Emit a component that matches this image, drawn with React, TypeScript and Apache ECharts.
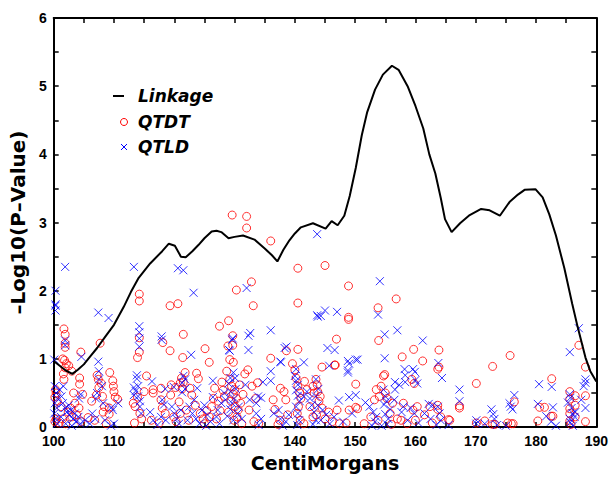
import React, { useEffect, useRef } from "react";
import * as echarts from "echarts";

const xMin = 100;
const xMax = 190;
const yMin = 0;
const yMax = 6;

const linkageCM = [100, 101, 102, 103.1, 104, 105, 106, 107.2, 108.5, 110, 111.6, 112.8, 114.1, 116, 118, 119.1, 120.1, 121.1, 121.9, 123, 124, 125, 126.2, 127, 127.8, 129.0, 130, 131.4, 133.3, 135.0, 136.2, 137.1, 138.1, 139.1, 140, 141.0, 143.0, 145.1, 146.1, 147.1, 148.2, 149.1, 150.1, 151.1, 152, 153.3, 154.6, 156.1, 157.2, 158.7, 160, 161.3, 162.3, 163.3, 164.2, 164.9, 166.0, 167.4, 169.0, 170.9, 172.3, 174.0, 175.6, 177, 178.1, 179.9, 181.1, 182.2, 183.3, 184.7, 186.0, 186.9, 188.2, 189, 190];
const linkageLOD = [0.97, 0.9, 0.83, 0.78, 0.84, 0.92, 1.03, 1.16, 1.32, 1.5, 1.76, 1.98, 2.19, 2.4, 2.58, 2.69, 2.66, 2.5, 2.49, 2.58, 2.67, 2.77, 2.87, 2.88, 2.86, 2.77, 2.79, 2.81, 2.75, 2.62, 2.52, 2.43, 2.6, 2.74, 2.84, 2.93, 2.99, 2.91, 3.02, 2.96, 3.1, 3.39, 3.8, 4.28, 4.62, 4.95, 5.17, 5.3, 5.24, 5.0, 4.71, 4.38, 4.0, 3.72, 3.36, 3.05, 2.86, 2.99, 3.11, 3.2, 3.18, 3.1, 3.3, 3.41, 3.48, 3.49, 3.37, 3.12, 2.81, 2.33, 1.81, 1.47, 1.02, 0.82, 0.67];

const qtdt: [number, number][] = [
  [129.6, 3.11], [132.0, 3.09], [132.0, 2.92], [136.0, 2.73], [140.5, 2.33], [145.0, 2.37], [148.9, 2.07], [156.8, 1.88], [153.8, 1.75], [132.8, 2.13], [130.3, 2.01], [133.1, 1.78], [140.5, 1.82], [114.2, 1.95], [114.2, 1.85], [119.3, 1.78], [120.6, 1.81], [127.5, 1.48], [129.0, 1.56], [148.9, 1.61], [148.9, 1.58], [153.9, 1.27], [146.9, 1.29], [121.5, 1.36], [114.2, 1.31], [101.7, 1.44], [101.9, 1.36], [101.9, 1.23], [101.9, 1.17], [107.7, 1.23], [118.1, 1.24], [119.3, 1.12], [125.1, 1.15], [129.7, 1.2], [129.7, 1.34], [159.7, 1.14], [163.9, 1.13], [175.7, 1.05], [157.8, 1.03], [161.2, 0.97], [187.1, 1.2], [188.2, 0.88], [172.8, 0.89], [170.1, 0.64], [182.6, 0.71], [104.5, 1.10], [113.9, 1.02], [114.2, 1.1], [121.4, 1.02], [125.8, 0.95], [136.0, 1.01], [138.6, 1.12], [140.5, 1.14], [144.5, 0.88], [146.6, 0.91], [163.9, 0.88], [154.9, 0.77],
  [101.5, 1.0], [101.8, 0.98], [102.1, 0.93], [101.9, 0.87], [101.6, 0.78], [101.7, 0.7], [102.5, 0.9], [103.0, 0.82], [104.3, 0.72], [104.3, 0.63], [100.3, 0.55], [100.4, 0.5], [100.2, 0.44], [100.6, 0.38], [103.3, 0.5], [104.8, 0.48], [101.2, 0.3], [102.4, 0.22], [103.0, 0.15], [100.4, 0.12], [100.9, 0.06], [101.5, 0.12], [102.8, 0.28], [103.8, 0.18], [104.5, 0.08], [100.2, 0.08], [102.0, 0.05], [103.5, 0.35], [104.2, 0.28],
  [107.2, 0.76], [107.4, 0.7], [107.9, 0.64], [107.5, 0.58], [107.1, 0.47], [108.1, 0.45], [109.3, 0.8], [109.8, 0.68], [109.9, 0.6], [110.0, 0.52], [110.2, 0.44], [106.3, 0.38], [108.4, 0.3], [108.2, 0.22], [109.2, 0.28], [109.2, 0.19], [110.6, 0.41], [106.8, 0.1], [108.7, 0.05], [105.7, 0.14],
  [113.2, 0.35], [113.5, 0.3], [113.9, 0.44], [114.3, 0.2], [114.6, 0.12], [113.4, 0.06], [115.4, 0.75], [115.0, 0.52], [116.5, 0.55], [116.5, 0.5], [117.8, 0.57], [117.8, 0.4], [119.4, 0.47], [118.5, 0.2], [116.2, 0.1], [117.5, 0.06], [118.0, 0.28], [119.5, 0.62], [120.2, 0.58], [121.0, 0.65], [121.3, 0.56], [120.8, 0.37], [121.2, 0.72], [119.9, 0.15], [120.3, 0.08], [121.0, 0.2], [121.8, 0.8], [121.5, 0.66], [122.6, 0.57], [122.9, 0.47], [122.0, 0.25], [122.4, 0.1],
  [123.7, 0.79], [124.0, 0.71], [123.5, 0.32], [124.3, 0.2], [124.8, 0.12], [125.4, 0.24], [125.0, 0.05], [126.7, 0.57], [127.9, 0.66], [128.1, 0.54], [128.3, 0.45], [127.3, 0.38], [126.2, 0.3], [125.8, 0.15], [127.0, 0.12], [126.5, 0.42], [127.6, 0.24],
  [128.9, 1.19], [129.2, 0.99], [129.8, 0.95], [128.7, 0.82], [132.2, 0.84], [131.7, 0.78], [129.2, 0.7], [129.5, 0.6], [130.0, 0.55], [129.8, 0.48], [130.3, 0.42], [129.4, 0.38], [130.1, 0.3], [130.6, 0.25], [129.0, 0.22], [130.4, 0.15], [131.0, 0.35], [131.4, 0.48], [130.8, 0.62], [129.9, 0.1], [131.2, 0.05], [132.9, 0.6], [133.5, 0.42], [132.4, 0.25], [133.2, 0.08], [134.0, 0.05], [133.8, 0.65],
  [137.6, 0.57], [138.2, 0.52], [138.5, 0.4], [136.4, 0.4], [136.7, 0.26], [137.5, 0.1], [138.8, 0.18], [137.2, 0.04], [139.6, 0.93], [140.0, 0.84], [140.2, 0.72], [140.5, 0.6], [140.8, 0.5], [141.0, 0.42], [140.6, 0.3], [140.4, 0.2], [140.9, 0.1], [141.6, 0.67], [143.0, 0.6], [143.2, 0.5], [142.0, 0.55], [142.5, 0.3], [143.0, 0.15], [141.5, 0.05],
  [143.5, 0.7], [143.7, 0.62], [143.8, 0.52], [144.2, 0.45], [144.0, 0.38], [144.5, 0.28], [143.6, 0.18], [145.0, 0.12], [146.7, 0.91], [145.6, 0.22], [146.2, 0.08], [147.0, 0.25], [147.4, 0.05], [149.0, 0.25], [150.1, 0.63], [150.1, 0.29], [150.4, 0.27], [151.5, 0.05], [148.5, 0.06],
  [153.5, 0.55], [154.0, 0.45], [154.3, 0.6], [154.7, 0.75], [155.0, 0.5], [155.3, 0.42], [156.2, 0.35], [153.2, 0.4], [152.6, 0.15], [153.8, 0.1], [155.8, 0.2], [157.0, 0.12], [158.0, 0.35], [159.4, 0.7], [159.8, 0.64], [157.6, 0.1], [158.6, 0.05], [159.6, 0.25], [160.3, 0.3], [160.0, 0.1], [156.0, 0.04],
  [162.4, 0.3], [163.7, 0.32], [163.7, 0.26], [165.5, 0.11], [163.7, 0.85], [161.5, 0.18], [162.8, 0.06], [164.2, 0.15], [167.3, 0.31], [167.3, 0.28], [165.7, 0.1],
  [170.1, 0.06], [171.5, 0.09], [172.8, 0.04], [173.2, 0.04], [175.3, 0.06], [175.9, 0.05], [176.2, 0.05], [176.4, 0.37], [180.6, 0.29], [181.4, 0.29], [182.5, 0.16], [182.8, 0.16], [180.3, 0.09], [185.6, 0.52], [186.5, 0.46], [185.6, 0.41], [188.2, 0.46], [186.5, 0.32], [185.6, 0.27], [185.6, 0.2], [186.5, 0.15], [188.2, 0.08], [185.6, 0.09], [185.8, 0.04]
];

const qtld: [number, number][] = [
  [143.7, 2.83], [100.3, 2.0], [101.9, 2.35], [113.3, 2.35], [120.6, 2.33], [121.5, 2.3], [123.2, 1.97], [132.0, 2.04], [154.1, 2.14], [100.3, 1.8], [100.3, 1.78], [100.3, 1.71], [107.4, 1.68], [109.1, 1.6], [114.2, 1.48], [114.2, 1.39], [117.9, 1.33], [117.9, 1.28], [136.0, 1.42], [143.7, 1.64], [144.3, 1.63], [145.0, 1.71], [147.0, 1.69], [153.8, 1.65], [154.9, 1.36], [157.0, 1.42], [161.2, 1.27], [187.1, 1.45], [185.6, 1.1], [132.6, 1.38], [132.3, 1.34], [129.7, 1.3], [129.1, 1.13], [132.3, 1.13], [138.6, 1.18], [145.4, 1.16], [146.6, 1.13], [122.8, 1.06], [104.6, 1.03], [100.1, 0.99], [107.4, 0.96], [137.6, 0.96], [148.8, 0.97], [148.8, 0.83], [148.8, 0.8], [150.1, 0.99], [150.4, 0.99], [154.9, 1.01], [163.8, 0.94], [164.4, 0.72], [180.5, 0.63], [182.6, 0.59], [188.2, 0.7], [101.9, 1.27], [101.9, 1.2], [114.2, 1.3], [114.2, 1.18],
  [100.2, 0.6], [100.4, 0.5], [100.6, 0.42], [100.2, 0.35], [100.5, 0.28], [100.1, 0.2], [100.3, 0.12], [100.6, 0.05], [101.0, 0.55], [101.3, 0.45], [101.5, 0.35], [101.9, 0.28], [102.2, 0.22], [102.6, 0.18], [102.9, 0.25], [103.2, 0.12], [103.5, 0.2], [103.8, 0.08], [104.1, 0.15], [104.4, 0.05], [102.0, 0.05], [101.2, 0.15], [102.5, 0.32], [104.5, 0.48], [104.2, 0.42], [105.2, 0.1], [103.0, 0.02], [101.6, 0.6],
  [107.5, 0.82], [107.5, 0.7], [107.2, 0.5], [107.0, 0.42], [106.4, 0.2], [106.9, 0.12], [108.2, 0.35], [108.5, 0.1], [109.6, 0.29], [109.8, 0.25], [110.0, 0.05], [109.5, 0.02], [108.0, 0.6], [110.7, 0.35], [106.0, 0.05],
  [113.8, 0.76], [113.8, 0.71], [114.0, 0.6], [113.6, 0.53], [114.0, 0.45], [114.3, 0.38], [114.3, 0.3], [114.5, 0.2], [113.3, 0.58], [113.3, 0.47], [116.3, 0.67], [116.0, 0.22], [116.5, 0.1], [117.2, 0.03], [118.5, 0.56], [118.0, 0.4], [118.3, 0.33], [117.8, 0.15], [118.6, 0.1], [119.9, 0.59], [121.3, 0.65], [121.8, 0.56], [120.0, 0.2], [120.4, 0.12], [120.8, 0.05], [121.1, 0.25], [119.6, 0.3], [121.5, 0.75],
  [121.8, 0.7], [121.3, 0.51], [123.8, 0.57], [123.3, 0.4], [126.4, 0.68], [126.4, 0.44], [122.5, 0.3], [123.0, 0.2], [123.6, 0.12], [124.2, 0.05], [122.2, 0.1], [124.6, 0.25], [125.0, 0.32], [125.5, 0.18], [126.0, 0.08], [127.8, 0.35], [127.2, 0.25], [127.0, 0.15], [127.5, 0.05], [125.3, 0.02],
  [129.6, 1.28], [129.2, 1.12], [129.8, 0.8], [130.1, 0.72], [129.3, 0.72], [129.0, 0.64], [129.3, 0.52], [130.2, 0.56], [129.9, 0.42], [129.6, 0.35], [129.3, 0.26], [128.8, 0.16], [129.8, 0.1], [130.5, 0.2], [130.7, 0.3], [131.2, 0.12], [128.5, 0.4], [128.3, 0.5], [134.7, 0.66], [133.9, 0.45], [134.4, 0.43], [133.6, 0.35], [133.6, 0.2], [134.4, 0.12], [134.0, 0.03], [131.8, 0.62], [132.5, 0.4],
  [138.3, 1.16], [136.0, 0.82], [137.7, 0.95], [141.5, 0.95], [140.2, 0.85], [140.0, 0.75], [140.2, 0.68], [140.5, 0.62], [140.2, 0.54], [140.5, 0.46], [140.8, 0.38], [140.2, 0.3], [140.5, 0.2], [140.7, 0.1], [140.4, 0.03], [141.5, 0.45], [142.0, 0.52], [142.5, 0.42], [142.8, 0.32], [143.2, 0.22], [143.5, 0.1], [143.0, 0.04], [136.5, 0.2], [137.3, 0.25], [137.6, 0.12], [138.5, 0.08], [138.0, 0.02], [139.0, 0.18], [136.0, 0.68],
  [143.8, 1.62], [145.7, 0.9], [149.0, 0.93], [143.5, 0.7], [143.9, 0.56], [143.5, 0.45], [143.8, 0.32], [144.6, 0.25], [145.2, 0.18], [144.3, 0.1], [147.3, 0.39], [149.0, 0.44], [150.1, 0.47], [146.5, 0.15], [148.0, 0.08], [149.5, 0.2], [145.8, 0.05],
  [151.7, 0.36], [152.4, 0.3], [153.0, 0.22], [153.5, 0.15], [153.3, 0.08], [152.8, 0.02], [154.4, 0.02], [154.7, 0.55], [155.0, 0.45], [155.2, 0.38], [154.8, 0.33], [155.8, 0.26], [155.0, 0.19], [155.5, 0.12], [155.3, 0.04], [156.6, 0.66], [158.3, 0.66], [156.6, 0.55], [157.3, 0.62], [158.2, 0.85], [159.6, 0.85], [159.9, 0.81], [158.3, 0.76], [160.0, 0.69], [160.3, 0.64], [156.5, 0.4], [158.0, 0.3], [157.7, 0.22], [159.2, 0.28], [158.7, 0.1], [159.8, 0.2], [160.5, 0.06],
  [162.2, 0.34], [162.8, 0.32], [163.7, 0.3], [164.0, 0.2], [164.2, 0.1], [165.5, 0.03], [163.5, 0.03], [162.5, 0.12], [167.3, 0.55], [167.3, 0.38], [161.5, 0.2],
  [170.1, 0.1], [170.1, 0.05], [171.5, 0.05], [172.6, 0.26], [172.9, 0.19], [173.1, 0.12], [173.5, 0.03], [176.4, 0.47], [175.6, 0.35], [176.1, 0.26], [175.8, 0.3], [175.0, 0.02], [180.3, 0.34], [182.8, 0.29], [181.7, 0.16], [182.5, 0.08], [183.3, 0.02], [185.6, 0.48], [185.7, 0.43], [185.3, 0.36], [185.9, 0.28], [186.1, 0.2], [185.6, 0.12], [185.7, 0.07], [186.1, 0.02], [186.5, 0.22], [186.4, 0.15], [188.2, 0.65], [187.9, 0.6], [188.2, 0.28], [187.5, 0.4]
];

const legendNames = ["Linkage", "QTDT", "QTLD"];

const TICK_FONT = "'Liberation Sans', Arial, sans-serif";
const TITLE_FONT = "'DejaVu Sans', sans-serif";

export default function App() {
  const ref = useRef<HTMLDivElement>(null);
  useEffect(() => {
    if (!ref.current) return;
    const chart = echarts.init(ref.current, undefined, { renderer: "svg" });
    const axisLine = { show: true, onZero: false, lineStyle: { color: "#000", width: 2 } };
    const axisTick = { show: true, inside: true, length: 5, lineStyle: { color: "#000", width: 1.5 } };
    const xBase = { type: "value", min: xMin, max: xMax, interval: 5, splitLine: { show: false }, axisLine, axisTick };
    const yBase = { type: "value", min: yMin, max: yMax, interval: 0.5, splitLine: { show: false }, axisLine, axisTick };
    const lineData = linkageCM.map((x, i) => [x, linkageLOD[i]]);
    chart.setOption({
      animation: false,
      backgroundColor: "#fff",
      grid: { left: 51, right: 14, top: 18, bottom: 41, containLabel: false },
      xAxis: [
        {
          ...xBase,
          position: "bottom",
          name: "CentiMorgans",
          nameLocation: "middle",
          nameGap: 22,
          nameTextStyle: { fontFamily: TITLE_FONT, fontWeight: "bold", fontSize: 19, color: "#000" },
          axisLabel: {
            margin: 8,
            lineHeight: 12,
            fontFamily: TICK_FONT,
            fontWeight: "bold",
            fontSize: 14,
            color: "#000",
            formatter: (v: number) => (v % 10 === 0 ? String(v) : ""),
          },
        },
        { ...xBase, position: "top", axisLabel: { show: false } },
      ],
      yAxis: [
        {
          ...yBase,
          position: "left",
          name: "\u2013Log10(P\u2013Value)",
          nameLocation: "middle",
          nameGap: 21,
          nameTextStyle: { fontFamily: TITLE_FONT, fontWeight: "bold", fontSize: 20, color: "#000" },
          axisLabel: {
            margin: 7,
            lineHeight: 12,
            fontFamily: TICK_FONT,
            fontWeight: "bold",
            fontSize: 14,
            color: "#000",
            formatter: (v: number) => (v % 1 === 0 ? String(v) : ""),
          },
        },
        { ...yBase, position: "right", axisLabel: { show: false } },
      ],
      series: [
        {
          name: legendNames[1],
          type: "scatter",
          xAxisIndex: 0,
          yAxisIndex: 0,
          data: qtdt,
          symbol: "circle",
          symbolSize: 8,
          itemStyle: { color: "rgba(0,0,0,0)", borderColor: "#ff0000", borderWidth: 1 },
          z: 2,
        },
        {
          name: legendNames[2],
          type: "scatter",
          xAxisIndex: 0,
          yAxisIndex: 0,
          data: qtld,
          symbol: "path://M0,0L10,10M10,0L0,10",
          symbolSize: 8,
          itemStyle: { color: "rgba(0,0,0,0)", borderColor: "#0000ff", borderWidth: 1 },
          z: 3,
        },
        {
          name: legendNames[0],
          type: "line",
          xAxisIndex: 0,
          yAxisIndex: 0,
          data: lineData,
          showSymbol: false,
          symbol: "none",
          lineStyle: { color: "#000", width: 2 },
          z: 4,
        },
      ],
      graphic: [
        { type: "line", shape: { x1: 113, y1: 96, x2: 124, y2: 96 }, style: { stroke: "#000", lineWidth: 2 } },
        { type: "text", x: 138, y: 96, style: { text: legendNames[0], font: `italic bold 17px ${TITLE_FONT}`, fill: "#000", verticalAlign: "middle" } },
        { type: "circle", shape: { cx: 124, cy: 122, r: 3.5 }, style: { stroke: "#ff0000", fill: "none", lineWidth: 1 } },
        { type: "text", x: 138, y: 122, style: { text: legendNames[1], font: `italic bold 17px ${TITLE_FONT}`, fill: "#000", verticalAlign: "middle" } },
        { type: "line", shape: { x1: 121, y1: 144, x2: 127, y2: 150 }, style: { stroke: "#0000ff", lineWidth: 1 } },
        { type: "line", shape: { x1: 127, y1: 144, x2: 121, y2: 150 }, style: { stroke: "#0000ff", lineWidth: 1 } },
        { type: "text", x: 138, y: 147, style: { text: legendNames[2], font: `italic bold 17px ${TITLE_FONT}`, fill: "#000", verticalAlign: "middle" } },
      ],
    });
    return () => chart.dispose();
  }, []);
  return <div ref={ref} style={{ position: "absolute", left: 0, top: 0, width: 611, height: 477, background: "#fff" }} />;
}
